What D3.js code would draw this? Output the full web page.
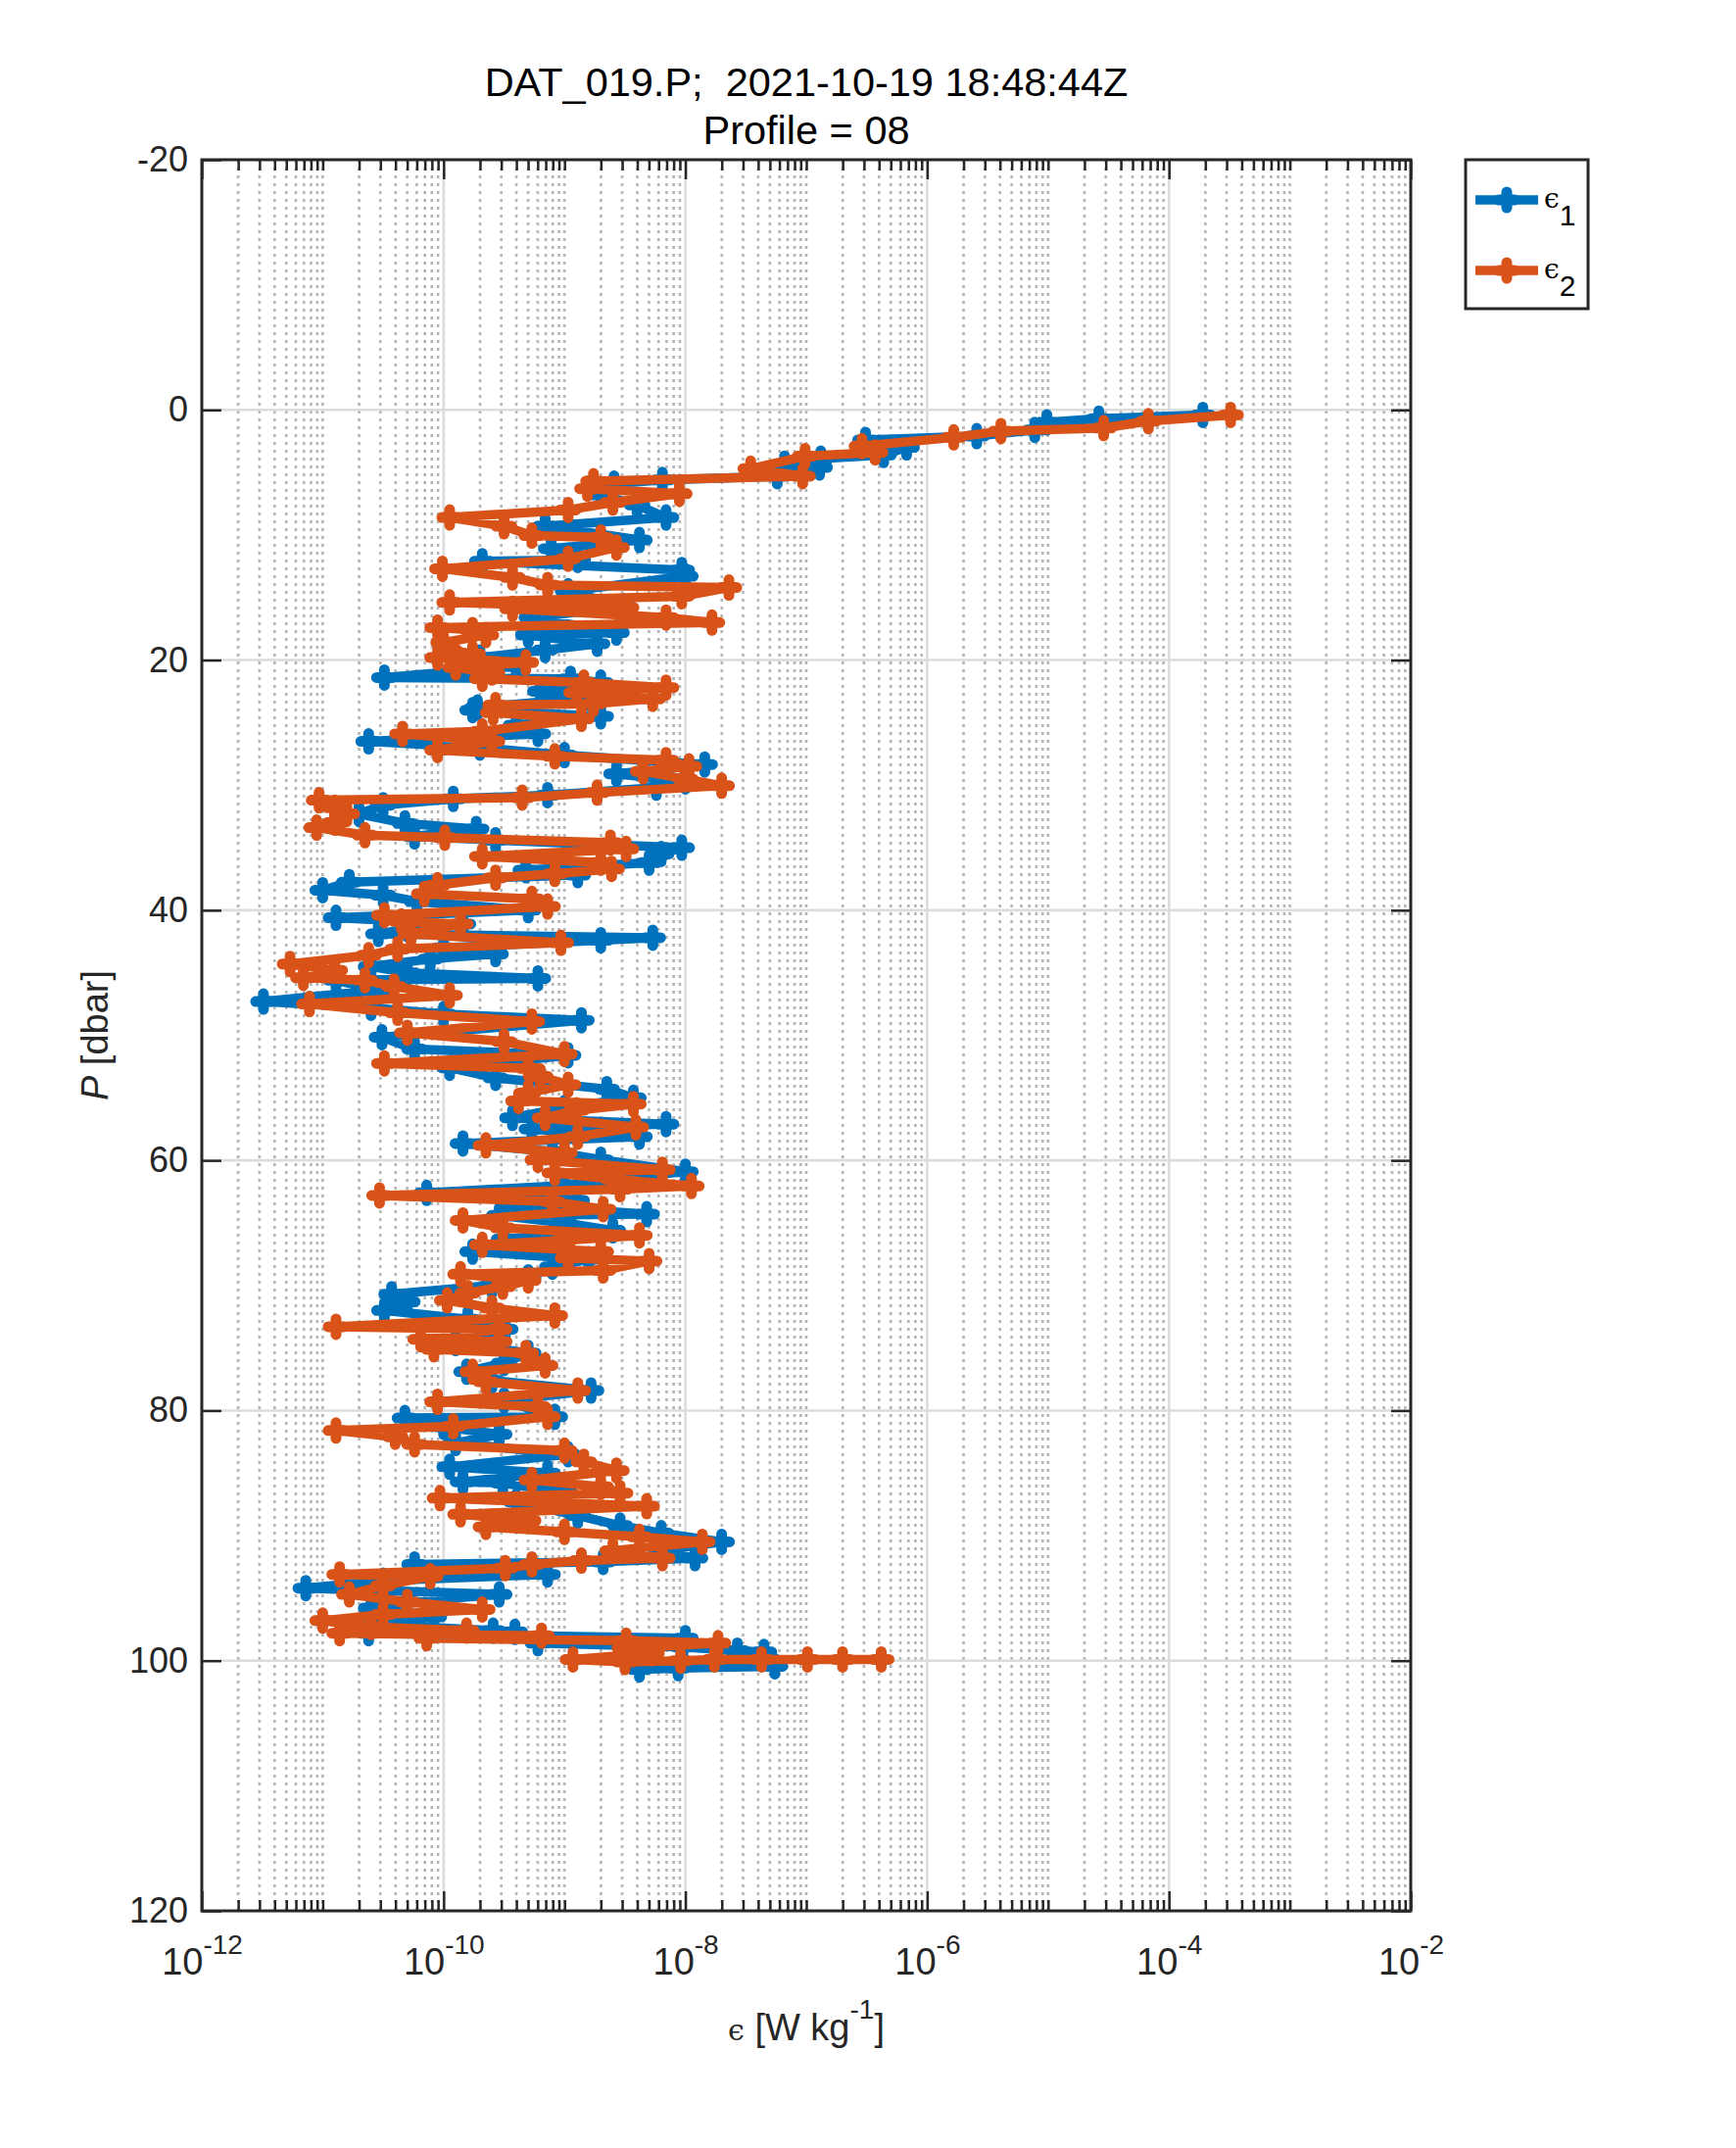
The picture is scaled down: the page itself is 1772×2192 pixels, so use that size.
<!DOCTYPE html>
<html>
<head>
<meta charset="utf-8">
<script src="https://cdn.jsdelivr.net/npm/d3@7"></script>
<style>
  body { margin: 0; background: #fff; }
</style>
</head>
<body>
<div id="chart"></div>
<script>
const titleLines = ["DAT_019.P;  2021-10-19 18:48:44Z", "Profile = 08"]
const pressureTicks = [-20, 0, 20, 40, 60, 80, 100, 120]
const decadeTicks = [-12, -10, -8, -6, -4, -2]
const seriesSubscripts = ["1", "2"]
const seriesColors = ["#0072BD", "#D95319"]

// [P (dbar), log10(epsilon / W kg^-1)]
const eps1Profile = [
  [0.4,-3.72],[0.7,-4.58],[1.0,-5.01],[1.6,-5.11],[2.1,-5.59],[2.4,-6.51],[3.0,-6.17],[3.6,-6.36],
  [3.9,-6.88],[4.3,-7.18],[4.6,-6.89],[5.3,-7.24],[5.6,-8.19],[5.9,-8.59],[6.8,-8.7],[7.6,-8.4],
  [8.6,-8.16],[9.3,-9.16],[10.4,-8.38],[11.1,-9.11],[12.0,-8.89],[12.1,-9.68],[12.8,-8.03],[13.3,-8.0],
  [14.5,-8.97],[15.7,-8.51],[16.6,-9.27],[17.8,-8.57],[18.0,-9.30],[18.7,-8.73],[19.2,-9.16],[19.8,-9.7],
  [20.5,-9.4],[21.4,-10.49],[21.5,-8.95],[21.8,-8.70],[22.5,-9.2],[23.0,-8.8],[23.8,-9.72],[24.0,-9.76],
  [24.5,-8.70],[25.2,-9.4],[25.9,-9.22],[26.5,-10.62],[27.0,-9.7],[27.6,-9.0],[28.35,-7.84],[29.1,-8.57],
  [29.7,-8.0],[30.2,-8.24],[30.8,-9.14],[31.1,-9.92],[31.6,-10.5],[32.3,-10.7],[33.05,-10.32],[33.5,-9.73],
  [34.1,-10.24],[34.4,-9.57],[35.0,-8.03],[35.5,-8.2],[36.2,-8.30],[36.8,-9.32],[37.2,-8.89],[37.75,-10.78],
  [38.4,-11.0],[38.8,-10.5],[39.3,-10.22],[40.0,-9.30],[40.6,-10.89],[41.1,-9.84],[41.5,-10.3],[41.9,-10.54],
  [42.2,-8.27],[42.4,-8.70],[43.0,-10.0],[43.5,-9.57],[43.9,-10.11],[44.5,-10.6],[45.0,-10.3],[45.45,-9.22],
  [45.6,-10.89],[46.4,-10.54],[47.3,-11.49],[47.8,-10.6],[48.3,-10.0],[48.8,-8.86],[50.15,-10.51],[51.1,-10.24],
  [51.6,-8.97],[52.6,-9.95],[53.4,-9.57],[54.3,-8.65],[55.0,-8.43],[55.8,-9.0],[56.6,-9.43],[57.1,-8.16],
  [57.5,-9.27],[58.1,-8.38],[58.65,-9.84],[59.3,-9.1],[59.95,-8.70],[60.9,-8.0],[61.6,-8.7],[62.0,-9.0],
  [62.6,-10.14],[63.2,-8.9],[63.6,-9.41],[64.3,-8.32],[64.4,-9.54],[65.0,-9.0],[65.6,-8.6],[66.3,-9.5],
  [67.3,-9.76],[67.9,-8.8],[68.5,-9.1],[69.35,-9.30],[70.0,-9.6],[70.7,-10.43],[71.3,-10.3],[72.0,-10.49],
  [72.7,-9.8],[73.5,-9.49],[74.6,-9.9],[75.4,-9.3],[76.2,-9.5],[76.9,-9.81],[77.6,-9.6],[78.4,-8.78],
  [79.2,-9.5],[80.5,-9.08],[80.6,-10.32],[81.3,-10.0],[81.9,-9.54],[82.6,-9.9],[83.5,-8.97],[84.5,-9.95],
  [85.0,-9.14],[85.7,-9.84],[85.8,-9.51],[86.5,-9.0],[87.3,-9.4],[88.4,-8.89],[89.2,-8.54],[89.8,-8.2],
  [90.5,-7.70],[91.2,-8.2],[91.8,-7.92],[92.1,-8.68],[92.3,-10.24],[93.1,-9.14],[93.6,-10.5],[94.2,-11.14],
  [94.7,-9.54],[95.3,-10.3],[95.8,-10.6],[96.5,-10.08],[97.1,-10.6],[97.6,-9.59],[97.7,-9.41],[97.8,-10.62],
  [98.2,-8.0],[98.6,-9.22],[98.9,-8.02],[99.2,-7.57],[99.3,-7.35],[100.45,-7.26],[100.6,-8.06],[100.7,-8.38]
]

const eps2Profile = [
  [0.4,-3.49],[0.9,-4.17],[1.45,-4.54],[1.7,-5.39],[2.2,-5.78],[2.9,-6.54],[3.4,-6.43],[3.7,-7.01],
  [4.7,-7.46],[5.3,-7.03],[5.7,-8.76],[6.3,-8.81],[6.7,-8.05],[7.4,-8.6],[8.0,-8.97],[8.6,-9.95],
  [9.3,-9.5],[10.05,-9.27],[10.2,-8.70],[11.0,-8.57],[11.9,-8.97],[12.7,-10.01],[13.4,-9.43],[14.0,-9.14],
  [14.2,-7.64],[14.9,-8.03],[15.4,-9.95],[15.8,-8.49],[15.9,-9.43],[16.6,-8.16],[17.0,-7.78],[17.4,-10.05],
  [17.6,-9.76],[18.0,-9.65],[18.6,-10.0],[19.2,-9.95],[19.5,-9.76],[19.8,-10.05],[20.2,-9.32],[20.6,-9.9],
  [21.0,-9.6],[21.5,-9.68],[21.8,-8.84],[22.2,-8.16],[22.6,-8.9],[23.1,-8.27],[23.5,-8.76],[23.6,-9.57],
  [24.2,-9.59],[24.7,-8.86],[25.7,-9.68],[25.9,-10.34],[26.5,-9.6],[27.2,-10.05],[27.7,-9.08],[28.0,-8.16],
  [28.5,-7.97],[28.9,-8.35],[29.5,-8.0],[30.05,-7.70],[30.6,-8.73],[31.0,-9.35],[31.2,-11.03],[31.8,-10.9],
  [32.3,-10.8],[33.0,-10.9],[33.4,-11.05],[34.0,-10.65],[34.2,-9.99],[34.6,-8.62],[35.1,-8.49],[35.7,-9.68],
  [36.2,-8.7],[36.7,-8.61],[37.1,-9.08],[37.4,-9.57],[38.0,-10.05],[38.7,-10.16],[39.1,-9.27],[39.7,-9.14],
  [40.4,-10.49],[40.9,-10.35],[41.1,-9.86],[41.9,-10.27],[42.6,-9.03],[43.1,-10.38],[43.6,-10.62],[44.3,-11.27],
  [44.8,-10.9],[45.4,-11.16],[45.6,-10.65],[46.1,-10.41],[46.8,-9.95],[47.5,-11.11],[48.2,-10.38],[48.9,-9.27],
  [49.8,-10.30],[50.5,-9.5],[51.5,-9.0],[52.25,-10.49],[52.65,-9.30],[53.3,-9.2],[53.95,-8.97],[54.6,-9.3],
  [55.25,-9.38],[55.5,-8.43],[56.0,-8.9],[56.6,-9.16],[57.35,-8.41],[58.1,-8.89],[58.8,-9.65],[59.4,-9.0],
  [59.95,-9.22],[60.75,-8.19],[61.0,-9.08],[61.5,-8.6],[62.05,-7.95],[62.3,-8.54],[62.8,-10.53],[63.3,-9.1],
  [63.9,-8.68],[64.8,-9.84],[65.4,-9.51],[66.0,-8.38],[66.4,-9.0],[66.75,-9.68],[67.3,-8.7],[67.8,-8.97],
  [68.05,-8.30],[68.8,-8.68],[69.1,-9.86],[69.6,-9.3],[70.1,-9.51],[70.6,-9.8],[71.2,-9.97],[71.8,-9.6],
  [72.4,-9.08],[73.3,-10.89],[73.5,-9.54],[74.3,-10.19],[74.5,-9.54],[75.1,-10.08],[75.4,-9.32],[76.4,-9.16],
  [76.9,-9.76],[77.7,-9.65],[78.4,-8.89],[79.3,-10.05],[79.7,-9.22],[80.5,-9.14],[81.25,-9.92],[81.6,-10.89],
  [82.1,-10.4],[82.7,-10.24],[83.2,-9.0],[84.1,-8.84],[84.8,-8.57],[85.55,-9.27],[86.1,-8.7],[86.6,-8.54],
  [87.0,-10.03],[87.65,-8.32],[88.3,-9.86],[88.8,-9.3],[89.3,-9.65],[89.7,-9.0],[90.1,-8.38],[90.5,-7.86],
  [91.2,-8.6],[91.8,-8.19],[92.0,-8.86],[92.3,-9.27],[92.6,-9.49],[93.1,-10.86],[93.25,-10.11],[94.0,-10.5],
  [94.7,-10.78],[95.3,-10.3],[95.9,-9.68],[96.3,-10.5],[96.8,-11.0],[97.3,-10.6],[97.6,-9.81],[97.8,-10.86],
  [98.0,-9.19],[98.2,-10.14],[98.4,-8.49],[98.6,-7.73],[99.0,-8.5],[99.4,-8.28],[99.9,-8.93],[100.1,-8.5],
  [100.0,-8.04],[99.9,-7.76],[99.9,-7.37],[99.9,-6.99],[99.9,-6.7],[99.9,-6.38]
]

const W = 1772, H = 2192
const plotLeft = 206, plotRight = 1440, plotTop = 163, plotBottom = 1950
const axisColor = "#262626"
const font = "'Liberation Sans', Arial, Helvetica, sans-serif"

const svg = d3.select("#chart").append("svg")
  .attr("width", W)
  .attr("height", H)
  .style("font-family", font)

const x = d3.scaleLog([1e-12, 1e-2], [plotLeft, plotRight])
const y = d3.scaleLinear([-20, 120], [plotTop, plotBottom])

const majorX = decadeTicks.map(d => Math.pow(10, d))
const minorX = x.ticks(20).filter(v => !majorX.some(m => Math.abs(v / m - 1) < 1e-6))

// grid
let grid = svg.append("g")
grid.selectAll("line.minor")
  .data(minorX)
  .enter().append("line")
  .attr("x1", d => x(d)).attr("x2", d => x(d))
  .attr("y1", plotTop).attr("y2", plotBottom)
  .attr("stroke", "#b4b4b4")
  .attr("stroke-width", 2.6)
  .attr("stroke-dasharray", "3,5")

grid.selectAll("line.vmajor")
  .data(majorX.slice(1, -1))
  .enter().append("line")
  .attr("x1", d => x(d)).attr("x2", d => x(d))
  .attr("y1", plotTop).attr("y2", plotBottom)
  .attr("stroke", "#dcdcdc")
  .attr("stroke-width", 2.6)

grid.selectAll("line.hmajor")
  .data(pressureTicks.slice(1, -1))
  .enter().append("line")
  .attr("x1", plotLeft).attr("x2", plotRight)
  .attr("y1", d => y(d)).attr("y2", d => y(d))
  .attr("stroke", "#dcdcdc")
  .attr("stroke-width", 2.6)

// axes (ticks inward)
function styleAxis(g) {
  g.select(".domain").remove()
  g.selectAll(".tick line").attr("stroke", axisColor).attr("stroke-width", 2.5)
  g.selectAll(".tick text").attr("fill", axisColor)
}

svg.append("g")
   .attr("transform", `translate(0, ${plotBottom})`)
   .call(d3.axisBottom(x).tickValues(minorX).tickSize(-11).tickFormat(""))
   .call(styleAxis)

svg.append("g")
   .attr("transform", `translate(0, ${plotTop})`)
   .call(d3.axisTop(x).tickValues(minorX).tickSize(-11).tickFormat(""))
   .call(styleAxis)

svg.append("g")
   .attr("transform", `translate(0, ${plotTop})`)
   .call(d3.axisTop(x).tickValues(majorX).tickSize(-20).tickFormat(""))
   .call(styleAxis)

let xAxis = svg.append("g")
   .attr("transform", `translate(0, ${plotBottom})`)
   .call(d3.axisBottom(x).tickValues(majorX).tickSize(-20).tickFormat(""))
   .call(styleAxis)

// 10^n labels with superscript
xAxis.selectAll(".tick").each(function(d, i) {
  let t = d3.select(this).append("text")
    .attr("y", 65)
    .attr("fill", axisColor)
    .attr("text-anchor", "middle")
    .style("font-size", "38px")
  t.append("tspan").text("10")
  t.append("tspan").attr("dy", -21).style("font-size", "28px").text(String(decadeTicks[i]))
})

svg.append("g")
   .attr("transform", `translate(${plotLeft}, 0)`)
   .call(d3.axisLeft(y).tickValues(pressureTicks).tickSize(-20).tickPadding(14).tickFormat(d => String(d)))
   .call(styleAxis)
   .selectAll(".tick text")
   .style("font-size", "36px")
   .style("font-family", font)

svg.append("g")
   .attr("transform", `translate(${plotRight}, 0)`)
   .call(d3.axisRight(y).tickValues(pressureTicks).tickSize(-20).tickFormat(""))
   .call(styleAxis)

// data
const dMaker = d3.line()
  .x(d => x(Math.pow(10, d[1])))
  .y(d => y(d[0]))

const plus = "M-8,0H8M0,-8V8"

const profiles = [eps1Profile, eps2Profile]
profiles.forEach((prof, i) => {
  let g = svg.append("g")
  g.append("path")
   .datum(prof)
   .attr("fill", "none")
   .attr("stroke", seriesColors[i])
   .attr("stroke-width", 9.5)
   .attr("stroke-linejoin", "round")
   .attr("d", dMaker)
  g.selectAll("path.marker")
   .data(prof)
   .enter().append("path")
   .attr("class", "marker")
   .attr("transform", d => `translate(${x(Math.pow(10, d[1]))}, ${y(d[0])})`)
   .attr("d", plus)
   .attr("stroke", seriesColors[i])
   .attr("stroke-width", 11)
   .attr("stroke-linecap", "round")
})

// box
svg.append("rect")
  .attr("x", plotLeft).attr("y", plotTop)
  .attr("width", plotRight - plotLeft).attr("height", plotBottom - plotTop)
  .attr("fill", "none")
  .attr("stroke", axisColor)
  .attr("stroke-width", 3)

// title
svg.selectAll("text.title")
  .data(titleLines)
  .enter().append("text")
  .attr("class", "title")
  .attr("x", (plotLeft + plotRight) / 2)
  .attr("y", (d, i) => 98 + i * 49)
  .attr("text-anchor", "middle")
  .attr("fill", "#000")
  .attr("xml:space", "preserve")
  .style("white-space", "pre")
  .style("font-size", "41.5px")
  .text(d => d)

// x label
let xl = svg.append("text")
  .attr("x", (plotLeft + plotRight) / 2)
  .attr("y", 2082)
  .attr("text-anchor", "middle")
  .attr("fill", axisColor)
  .style("font-size", "38px")
xl.append("tspan").style("font-family", "'DejaVu Serif', serif").style("font-size", "30px").text("\u03F5")
xl.append("tspan").text(" [W kg")
xl.append("tspan").attr("dy", -22).style("font-size", "28px").text("-1")
xl.append("tspan").attr("dy", 22).text("]")

// y label
let yl = svg.append("text")
  .attr("transform", `translate(110, ${(plotTop + plotBottom) / 2}) rotate(-90)`)
  .attr("text-anchor", "middle")
  .attr("fill", axisColor)
  .style("font-size", "38px")
yl.append("tspan").style("font-style", "italic").text("P")
yl.append("tspan").text(" [dbar]")

// legend
let legend = svg.append("g")
legend.append("rect")
  .attr("x", 1496).attr("y", 163)
  .attr("width", 125).attr("height", 152)
  .attr("fill", "#fff")
  .attr("stroke", axisColor)
  .attr("stroke-width", 3)

seriesSubscripts.forEach((s, i) => {
  let ly = 204 + i * 72
  legend.append("line")
    .attr("x1", 1506).attr("x2", 1570)
    .attr("y1", ly).attr("y2", ly)
    .attr("stroke", seriesColors[i])
    .attr("stroke-width", 9.5)
  legend.append("path")
    .attr("transform", `translate(1538, ${ly})`)
    .attr("d", plus)
    .attr("stroke", seriesColors[i])
    .attr("stroke-width", 11)
    .attr("stroke-linecap", "round")
  let t = legend.append("text")
    .attr("x", 1576)
    .attr("y", ly + 8)
    .attr("fill", "#000")
  t.append("tspan").style("font-family", "'DejaVu Serif', serif").style("font-size", "28px").text("\u03F5")
  t.append("tspan").attr("dy", 18).style("font-size", "30px").text(s)
})
</script>
</body>
</html>
